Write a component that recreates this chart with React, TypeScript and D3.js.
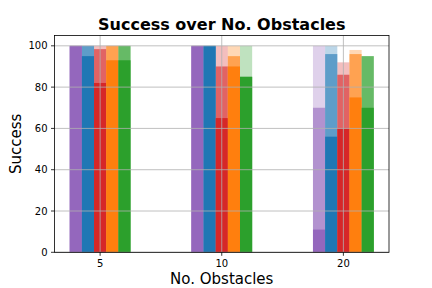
import React from "react";
import * as d3 from "d3";

const categories = ["5", "10", "20"];
const methods = ["m1", "m2", "m3", "m4", "m5"];
const colors = ["#9467bd", "#1f77b4", "#d62728", "#ff7f0e", "#2ca02c"];
// per method, per category
const lightValues = [
  [100, 100, 100],
  [100, 100, 100],
  [100, 100, 92],
  [100, 100, 98],
  [100, 100, 95],
];
const midValues = [
  [100, 100, 70],
  [100, 100, 96],
  [98.4, 90, 86],
  [100, 95, 96],
  [100, 85, 95],
];
const fullValues = [
  [100, 100, 11],
  [95, 100, 56],
  [82, 65, 60],
  [93, 90, 75],
  [93, 85, 70],
];
const yTicks = [0, 20, 40, 60, 80, 100];

const W = 432, H = 288;
const L = 54.5, R = 389, T = 35.5, B = 252.3;

export default function App() {
  const x = d3.scaleLinear().domain([-0.375, 2.375]).range([L, R]);
  const y = d3.scaleLinear().domain([0, 105]).range([B, T]);
  const bw = 0.1;
  const layers: [number[][], number][] = [
    [lightValues, 0.3],
    [midValues, 0.6],
    [fullValues, 1],
  ];
  const font = "DejaVu Sans, sans-serif";
  return (
    <svg width={W} height={H} style={{ position: "absolute", left: 0, top: 0 }} fontFamily={font}>
      <rect x={0} y={0} width={W} height={H} fill="#fff" />
      {layers.map(([vals, a], li) =>
        methods.map((m, mi) =>
          categories.map((c, ci) => {
            const cx = ci + (mi - 2) * bw;
            const x0 = x(cx - bw / 2);
            const x1 = x(cx + bw / 2);
            const v = vals[mi][ci];
            return (
              <rect
                key={`${li}-${mi}-${ci}`}
                x={x0}
                y={y(v)}
                width={x1 - x0}
                height={y(0) - y(v)}
                fill={colors[mi]}
                fillOpacity={a}
              />
            );
          })
        )
      )}
      {/* grid */}
      {yTicks.map((t) => (
        <line key={"gy" + t} x1={L} x2={R} y1={y(t)} y2={y(t)} stroke="#b0b0b0" strokeWidth={0.8} />
      ))}
      {categories.map((c, i) => (
        <line key={"gx" + c} x1={x(i)} x2={x(i)} y1={T} y2={B} stroke="#b0b0b0" strokeWidth={0.8} />
      ))}
      {/* spines */}
      <rect x={L} y={T} width={R - L} height={B - T} fill="none" stroke="#000" strokeWidth={0.8} />
      {/* y ticks */}
      {yTicks.map((t) => (
        <g key={"ty" + t}>
          <line x1={L - 3.5} x2={L} y1={y(t)} y2={y(t)} stroke="#000" strokeWidth={0.8} />
          <text x={L - 7} y={y(t)} dy="0.35em" textAnchor="end" fontSize={10} fill="#000">
            {t}
          </text>
        </g>
      ))}
      {categories.map((c, i) => (
        <g key={"tx" + c}>
          <line x1={x(i)} x2={x(i)} y1={B} y2={B + 3.5} stroke="#000" strokeWidth={0.8} />
          <text x={x(i)} y={B + 7} dy="0.76em" textAnchor="middle" fontSize={10} fill="#000">
            {c}
          </text>
        </g>
      ))}
      <text x={(L + R) / 2} y={29.5} textAnchor="middle" fontSize={16} fontWeight="bold" fill="#000">
        Success over No. Obstacles
      </text>
      <text x={(L + R) / 2} y={284} textAnchor="middle" fontSize={15} fill="#000">
        No. Obstacles
      </text>
      <text
        transform={`translate(${21},${(T + B) / 2}) rotate(-90)`}
        textAnchor="middle"
        fontSize={15}
        fill="#000"
      >
        Success
      </text>
    </svg>
  );
}
